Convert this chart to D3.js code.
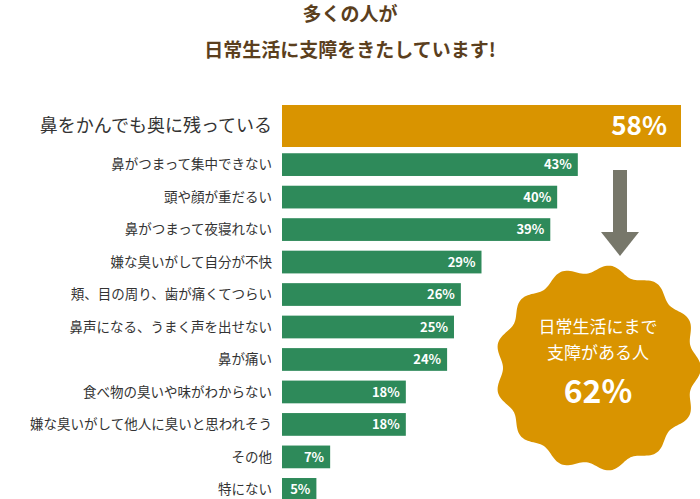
<!DOCTYPE html>
<html><head><meta charset="utf-8">
<script src="https://cdn.jsdelivr.net/npm/d3@7"></script>
<style>body{margin:0;background:#fff}svg{font-family:"Noto Sans CJK JP",sans-serif}</style>
</head><body>
<script>
const titleLines = ["多くの人が","日常生活に支障をきたしています!"];
const topCategory = "鼻をかんでも奥に残っている";
const topValue = 58;
const categories = ["鼻がつまって集中できない","頭や顔が重だるい","鼻がつまって夜寝れない","嫌な臭いがして自分が不快","頬、目の周り、歯が痛くてつらい","鼻声になる、うまく声を出せない","鼻が痛い","食べ物の臭いや味がわからない","嫌な臭いがして他人に臭いと思われそう","その他","特にない"];
const values = [43,40,39,29,26,25,24,18,18,7,5];
const badgeLines = ["日常生活にまで","支障がある人","62%"];

const W=700,H=499;
const svg=d3.select("body").append("svg").attr("width",W).attr("height",H);
const brown="#5b3f1e", gold="#d99400", green="#2e8a5a";
svg.selectAll("text.t").data(titleLines).join("text")
 .attr("x",350).attr("y",(d,i)=>14+i*36).attr("dy","0.36em").attr("text-anchor","middle")
 .attr("fill",brown).attr("font-size",19).attr("font-weight","bold").text(d=>d);

const x=d3.scaleLinear().domain([0,58]).range([282,681]);
svg.append("rect").attr("x",x(0)).attr("y",105).attr("width",x(topValue)-x(0)).attr("height",42).attr("fill",gold);
svg.append("text").attr("x",272).attr("y",126).attr("dy","0.35em").attr("text-anchor","end")
 .attr("fill","#333").attr("font-size",18).text(topCategory);
svg.append("text").attr("x",x(topValue)-14).attr("y",126).attr("dy","0.36em").attr("text-anchor","end")
 .attr("fill","#fff").attr("font-size",26).attr("font-weight","bold").text(topValue+"%");

const y=d3.scaleBand().domain(categories).range([150,504]).paddingInner(0.3).paddingOuter(0.1);
const g=svg.append("g");
g.selectAll("rect").data(values).join("rect")
 .attr("x",x(0)).attr("y",(d,i)=>y(categories[i])).attr("height",y.bandwidth())
 .attr("width",d=>x(d)-x(0)).attr("fill",green);
g.selectAll("text.v").data(values).join("text").attr("class","v")
 .attr("x",d=>x(d)-6).attr("y",(d,i)=>y(categories[i])+y.bandwidth()/2).attr("dy","0.36em")
 .attr("text-anchor","end").attr("fill","#fff").attr("font-size",13).attr("font-weight","bold").text(d=>d+"%");
g.selectAll("text.c").data(categories).join("text").attr("class","c")
 .attr("x",272).attr("y",d=>y(d)+y.bandwidth()/2).attr("dy","0.36em")
 .attr("text-anchor","end").attr("fill","#333").attr("font-size",13.5).text(d=>d);

svg.append("rect").attr("x",613).attr("y",170).attr("width",14).attr("height",62).attr("fill","#77776a");
svg.append("path").attr("d","M601,232 L639,232 L620,256 Z").attr("fill","#77776a");
const cx=598,cy=368;
const pts=d3.range(0,361).map(a=>{const t=a*Math.PI/180;const r=99+4*Math.cos(13*t);return [cx+r*Math.cos(t),cy+r*Math.sin(t)];});
svg.append("path").attr("d",d3.line().curve(d3.curveLinearClosed)(pts)).attr("fill",gold);
svg.selectAll("text.b").data(badgeLines).join("text").attr("class","b")
 .attr("x",cx).attr("y",(d,i)=>[333,359,403][i]).attr("text-anchor","middle").attr("fill","#fff")
 .attr("font-size",(d,i)=>i<2?17:32).attr("font-weight",(d,i)=>i<2?"normal":"bold").text(d=>d);
</script>
</body></html>
